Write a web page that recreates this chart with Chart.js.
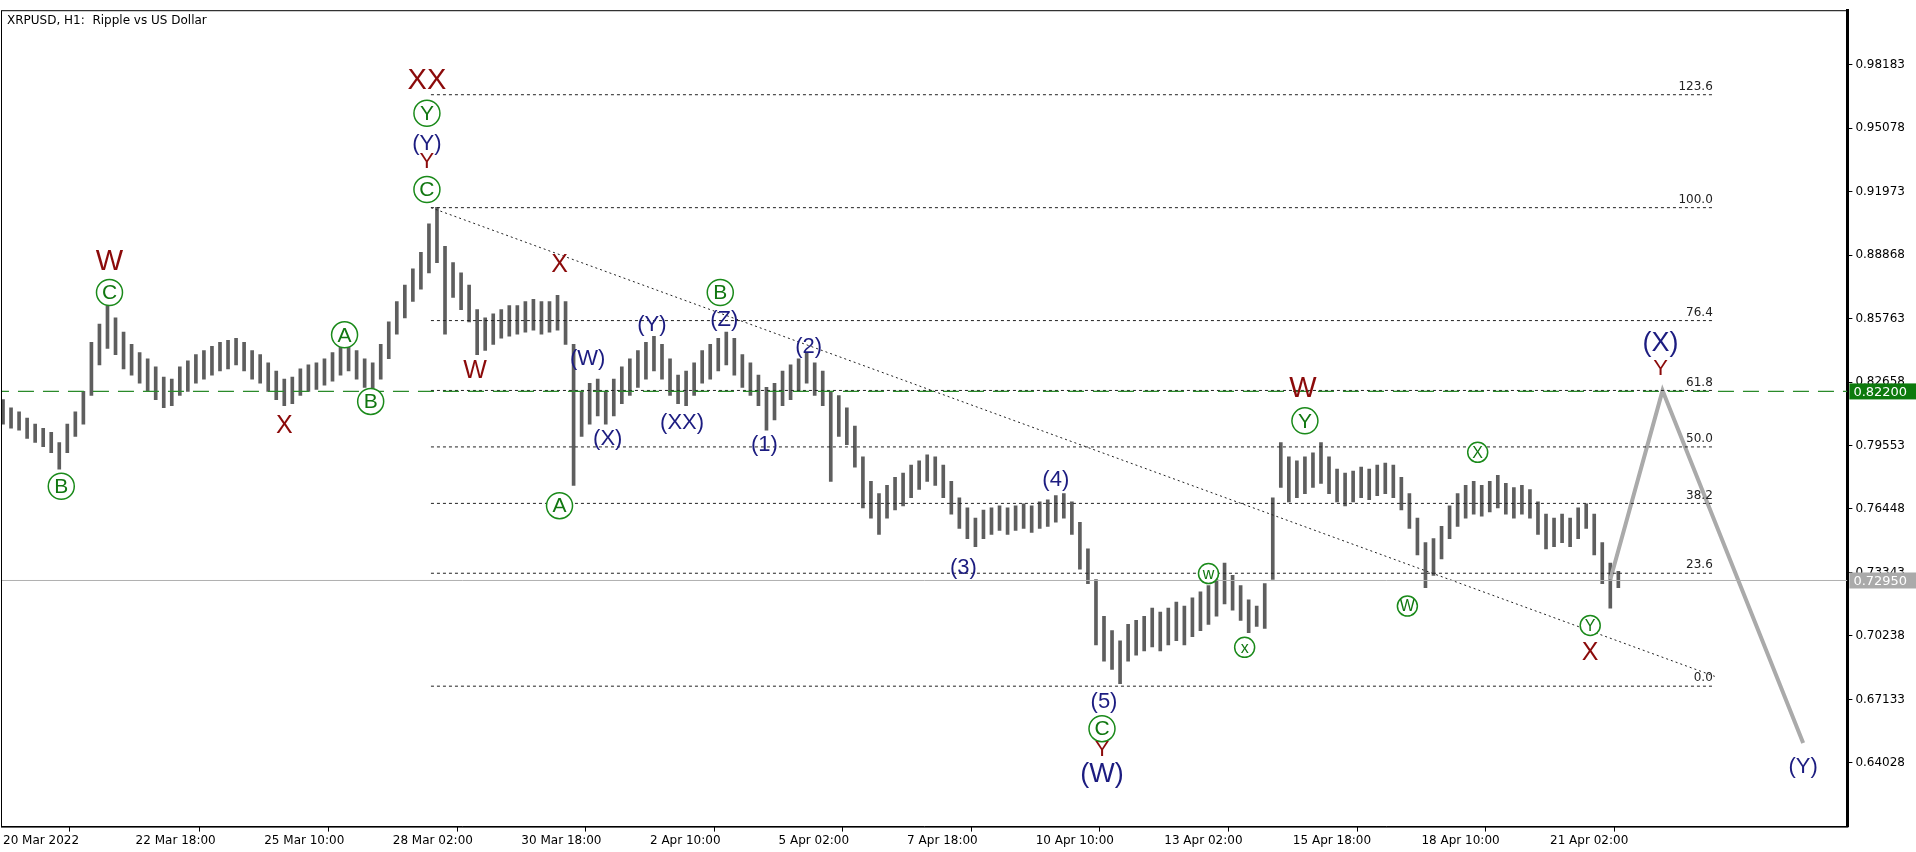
<!DOCTYPE html>
<html><head><meta charset="utf-8">
<script src="https://cdn.jsdelivr.net/npm/chart.js@4.4.1/dist/chart.umd.min.js"></script>
<style>html,body{margin:0;padding:0;background:#fff}#w{width:1916px;height:852px}</style>
</head><body><div id="w"><canvas id="c"></canvas></div>
<script>
// 4-hour bars: hour index = 4*i (hour 0 = 20 Mar 2022 00:00)
const barLow = [0.806,0.804,0.803,0.799,0.797,0.795,0.792,0.784,0.792,0.800,0.806,0.820,0.835,0.843,0.840,0.833,0.830,0.826,0.822,0.818,
0.814,0.815,0.820,0.822,0.826,0.828,0.830,0.832,0.833,0.835,0.832,0.828,0.826,0.822,0.818,0.815,0.816,0.820,0.822,0.823,
0.825,0.827,0.830,0.832,0.828,0.824,0.823,0.828,0.838,0.850,0.858,0.866,0.872,0.880,0.885,0.850,0.868,0.862,0.856,0.840,
0.842,0.845,0.848,0.849,0.850,0.851,0.852,0.850,0.851,0.852,0.845,0.776,0.800,0.806,0.810,0.806,0.810,0.816,0.820,0.824,
0.828,0.832,0.828,0.820,0.816,0.815,0.820,0.826,0.828,0.832,0.835,0.830,0.824,0.820,0.815,0.803,0.808,0.815,0.818,0.822,
0.826,0.820,0.815,0.778,0.800,0.796,0.785,0.765,0.760,0.752,0.760,0.764,0.766,0.770,0.774,0.778,0.776,0.770,0.762,0.755,
0.750,0.746,0.750,0.752,0.754,0.752,0.754,0.755,0.753,0.755,0.756,0.758,0.760,0.752,0.735,0.728,0.698,0.690,0.686,0.679,
0.690,0.693,0.695,0.697,0.695,0.698,0.700,0.698,0.702,0.705,0.708,0.712,0.718,0.715,0.710,0.704,0.707,0.706,0.730,0.775,
0.768,0.770,0.772,0.775,0.777,0.772,0.768,0.766,0.768,0.770,0.769,0.771,0.772,0.770,0.764,0.755,0.742,0.726,0.732,0.740,
0.750,0.756,0.760,0.762,0.761,0.763,0.765,0.762,0.760,0.762,0.760,0.752,0.745,0.746,0.748,0.746,0.750,0.755,0.742,0.728,
0.716,0.726];
const barHigh = [0.818,0.814,0.812,0.809,0.806,0.804,0.802,0.797,0.806,0.812,0.822,0.846,0.855,0.864,0.858,0.851,0.845,0.841,0.838,0.834,
0.829,0.828,0.834,0.837,0.840,0.842,0.844,0.846,0.847,0.848,0.846,0.842,0.840,0.836,0.832,0.828,0.829,0.833,0.835,0.836,
0.838,0.841,0.844,0.846,0.842,0.838,0.836,0.845,0.856,0.866,0.874,0.882,0.890,0.904,0.912,0.893,0.885,0.880,0.874,0.862,
0.858,0.860,0.862,0.864,0.864,0.866,0.867,0.866,0.866,0.869,0.866,0.845,0.822,0.826,0.828,0.822,0.828,0.834,0.838,0.842,
0.846,0.849,0.845,0.838,0.830,0.832,0.836,0.842,0.845,0.848,0.851,0.848,0.840,0.836,0.830,0.824,0.826,0.832,0.835,0.838,
0.841,0.836,0.832,0.822,0.820,0.814,0.805,0.790,0.778,0.772,0.776,0.780,0.782,0.786,0.788,0.791,0.790,0.786,0.778,0.770,
0.765,0.760,0.764,0.765,0.766,0.765,0.766,0.767,0.766,0.768,0.769,0.771,0.772,0.768,0.758,0.745,0.730,0.712,0.705,0.700,
0.708,0.710,0.712,0.716,0.714,0.716,0.719,0.717,0.721,0.724,0.727,0.730,0.738,0.732,0.727,0.720,0.717,0.728,0.770,0.797,
0.790,0.788,0.790,0.792,0.797,0.790,0.784,0.782,0.783,0.785,0.784,0.786,0.787,0.786,0.780,0.772,0.760,0.748,0.750,0.756,
0.766,0.772,0.776,0.778,0.776,0.778,0.781,0.777,0.775,0.776,0.774,0.768,0.762,0.760,0.762,0.760,0.765,0.767,0.762,0.748,
0.738,0.734];
const yTickValues = [0.98183,0.95078,0.91973,0.88868,0.85763,0.82658,0.79553,0.76448,0.73343,0.70238,0.67133,0.64028];
const xTickHours = [0,66,130,194,258,322,386,450,514,578,642,706,770];
const xTickLabels = ['20 Mar 2022','22 Mar 18:00','25 Mar 10:00','28 Mar 02:00','30 Mar 18:00','2 Apr 10:00','5 Apr 02:00','7 Apr 18:00','10 Apr 10:00','13 Apr 02:00','15 Apr 18:00','18 Apr 10:00','21 Apr 02:00'];
const fibLevels = [0,23.6,38.2,50,61.8,76.4,100,123.6];
const fibLow = 0.6778, fibHigh = 0.9119;
const fibStartHour = 213, fibEndHour = 852;
const trendHours = [213,852], trendPrices = [0.9119,0.6826];
const forecastHours = [800,826,896], forecastPrices = [0.7300,0.8224,0.6500];
const levelPrice = 0.82200, lastPrice = 0.72950;
// wave labels: text, hour, price, kind
const waveText = ['B','C','W','X','A','B','XX','Y','(Y)','Y','C','X','W','A','(W)','(X)','(Y)','(XX)','B','(Z)','(1)','(2)','(3)','(4)','(5)','C','Y','(W)','w','x','W','Y','X','W','Y','X','(X)','Y','(Y)'];
const waveHour = [29,53,53,140,170,183,211,211,211,211,211,277,235,277,291,301,323,338,357,359,379,401,478,524,548,547,547,547,600,618,647,648,734,699,790,790,825,825,896];
const wavePrice= [0.7756,0.8704,0.8852,0.8052,0.8497,0.8171,0.9741,0.9581,0.9433,0.9344,0.9208,0.8840,0.8319,0.7661,0.8378,0.7987,0.8544,0.8064,0.8704,0.8568,0.7957,0.8437,0.7357,0.7785,0.6701,0.6570,0.6464,0.6346,0.7329,0.6968,0.8230,0.8076,0.7922,0.7170,0.7075,0.6939,0.8455,0.8331,0.6384];
const waveKind = ['gc','gc','rb','r','gc','gc','rb','gc','n','rs','gc','r','r','gc','n','n','n','n','gc','n','n','n','n','n','n','gc','rs','nb','gs','gs','rb','gc','gs','gs','gs','r','nb','rs','n'];

const bars = barLow.map((lo,i)=>({x:4*i, y:[lo, barHigh[i]]}));
const fibSets = fibLevels.map(l=>{const p=fibLow+(fibHigh-fibLow)*l/100;return {type:'line',data:[{x:fibStartHour,y:p},{x:fibEndHour,y:p}],borderColor:'#222',borderWidth:1,borderDash:[3,3],pointRadius:0};});

const overlay = {
  id:'overlay',
  afterDatasetsDraw(ch){
    const c=ch.ctx, xs=ch.scales.x, ys=ch.scales.y, a=ch.chartArea;
    c.save();
    c.beginPath(); c.rect(a.left,a.top,a.right-a.left,a.bottom-a.top); c.clip();
    c.font='12px "DejaVu Sans"'; c.fillStyle='#222'; c.textAlign='right'; c.textBaseline='bottom';
    fibLevels.forEach(l=>{const p=fibLow+(fibHigh-fibLow)*l/100;c.fillText(l.toFixed(1),xs.getPixelForValue(fibEndHour)-2,ys.getPixelForValue(p)-2);});
    waveText.forEach((t,i)=>{
      const x=xs.getPixelForValue(waveHour[i]), y=ys.getPixelForValue(wavePrice[i]), k=waveKind[i];
      c.textAlign='center'; c.textBaseline='middle';
      if(k[0]==='g'){
        const r=k==='gc'?13:10;
        c.beginPath(); c.arc(x,y,r,0,Math.PI*2); c.fillStyle='#fff'; c.fill();
        c.lineWidth=1.5; c.strokeStyle='#1a8a1a'; c.stroke();
        c.fillStyle='#117711'; c.font=(k==='gc'?'21px':'16px')+' "Liberation Sans"';
        c.fillText(t,x,y+1);
      } else if(k[0]==='r'){
        c.fillStyle='#8b0a0a'; c.font=(k==='rb'?'29px':k==='rs'?'22px':'25px')+' "Liberation Sans"';
        c.fillText(t,x,y);
      } else {
        c.fillStyle='#1c1c80'; c.font=(k==='nb'?'27px':'22px')+' "Liberation Sans"';
        c.fillText(t,x,y);
      }
    });
    c.restore();
  },
  afterDraw(ch){
    const c=ch.ctx, ys=ch.scales.y, a=ch.chartArea;
    c.save();
    c.strokeStyle='#000'; c.lineWidth=1; c.strokeRect(a.left+0.5,a.top+0.5,a.right-a.left,a.bottom-a.top);
    c.fillStyle='#000'; c.font='12px "DejaVu Sans"'; c.textAlign='left'; c.textBaseline='top';
    c.fillText('XRPUSD, H1:  Ripple vs US Dollar',a.left+6,a.top+5);
    const tag=(p,bg)=>{const y=ys.getPixelForValue(p);c.fillStyle=bg;c.fillRect(a.right+2,y-8,68,16);c.fillStyle='#fff';c.font='13px "DejaVu Sans"';c.textBaseline='middle';c.fillText(p.toFixed(5),a.right+6,y+1);};
    tag(levelPrice,'#0d7a0d'); tag(lastPrice,'#aaaaaa');
    c.restore();
  }
};

new Chart(document.getElementById('c'),{
  type:'bar',
  data:{datasets:[
    {type:'line',data:[{x:-5,y:levelPrice},{x:930,y:levelPrice}],borderColor:'#2a8a2a',borderWidth:1.3,borderDash:[16,9],pointRadius:0},
    {type:'line',data:[{x:-5,y:lastPrice},{x:930,y:lastPrice}],borderColor:'#b0b0b0',borderWidth:1,pointRadius:0},
    ...fibSets,
    {type:'line',data:trendHours.map((h,i)=>({x:h,y:trendPrices[i]})),borderColor:'#222',borderWidth:1,borderDash:[2,3],pointRadius:0},
    {type:'line',data:forecastHours.map((h,i)=>({x:h,y:forecastPrices[i]})),borderColor:'#aaaaaa',borderWidth:4,pointRadius:0},
    {type:'bar',data:bars,backgroundColor:'#5e5e5e',barThickness:3,grouped:false}
  ]},
  options:{
    responsive:true,maintainAspectRatio:false,animation:false,
    layout:{padding:{left:1,top:3,right:8,bottom:2}},
    plugins:{legend:{display:false},tooltip:{enabled:false}},
    scales:{
      x:{type:'linear',min:-1,max:918,offset:false,
        afterBuildTicks:s=>{s.ticks=xTickHours.map(v=>({value:v}));},
        ticks:{autoSkip:false,maxRotation:0,align:'start',font:{family:'DejaVu Sans',size:12},color:'#000',padding:2,
          callback:(v)=>{const i=xTickHours.indexOf(v);return i>=0?xTickLabels[i]:'';}},
        grid:{display:true,drawOnChartArea:false,drawTicks:true,tickLength:5,color:'#000'},
        border:{display:true,color:'#000',width:1}},
      y:{position:'right',min:0.6091,max:1.0085,
        afterBuildTicks:s=>{s.ticks=yTickValues.map(v=>({value:v}));},
        ticks:{font:{family:'DejaVu Sans',size:12},color:'#000',padding:3,callback:v=>Number(v).toFixed(5)},
        grid:{display:true,drawOnChartArea:false,drawTicks:true,tickLength:5,color:'#000'},
        border:{display:true,color:'#000',width:3}}
    }
  },
  plugins:[overlay]
});
</script></body></html>
